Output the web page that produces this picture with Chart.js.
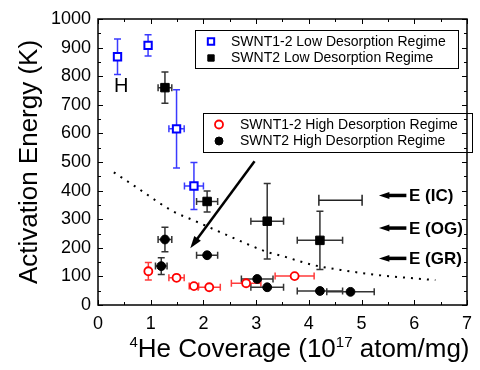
<!DOCTYPE html>
<html>
<head>
<meta charset="utf-8">
<script src="https://cdn.jsdelivr.net/npm/chart.js@4.4.1/dist/chart.umd.min.js"></script>
<style>
  body { margin: 0; background: #fff; }
</style>
</head>
<body>
<canvas id="myChart" width="480" height="370"></canvas>
<script>
const FONT = "'Liberation Sans', Arial, sans-serif";

// SWNT1-2 low desorption regime (open blue squares)
const lowS12X = [0.37, 0.95, 1.49, 1.82];
const lowS12Y = [868, 908, 616, 416];
const lowS12Xerr = [0, 0, 0.145, 0.18];
const lowS12Yerr = [62, 37, 137, 82];

// SWNT2 low desorption regime (filled black squares)
const lowS2X = [1.27, 2.07, 3.21, 4.21];
const lowS2Y = [760, 362, 293, 226];
const lowS2Xerr = [0.13, 0.2, 0.31, 0.43];
const lowS2Yerr = [55, 37, 132, 102];

// SWNT1-2 high desorption regime (open red circles)
const highS12X = [0.955, 1.49, 1.82, 2.11, 2.81, 3.73];
const highS12Y = [118, 95, 66, 62, 76, 101];
const highS12Xerr = [0, 0.145, 0.09, 0.21, 0.28, 0.37];
const highS12Yerr = [31, 0, 0, 0, 0, 0];

// SWNT2 high desorption regime (filled black circles)
const highS2X = [1.27, 1.20, 2.07, 3.02, 3.21, 4.21, 4.79];
const highS2Y = [229, 136, 174, 91, 62, 49, 46];
const highS2Xerr = [0.13, 0.11, 0.2, 0.3, 0.31, 0.43, 0.45];
const highS2Yerr = [43, 29, 0, 0, 0, 0, 0];

// lone horizontal error bar with no marker
const strayX = [4.6];
const strayY = [366];
const strayXerr = [0.41];

// dotted guide curve
const curveX = [0.3, 0.75, 1.4, 1.85, 2.5, 3.2, 3.5, 4.1, 4.7, 5.3, 6.4];
const curveY = [464, 409, 330, 293, 240, 186, 171, 139, 120, 105, 87];

// big arrow (from, to)
const arrowFrom = [2.97, 503];
const arrowTo = [1.75, 198];

// energy markers on the right
const eLabels = ["E (IC)", "E (OG)", "E (GR)"];
const eValues = [383, 269, 163];
const eArrowX = [5.85, 5.33];
const eTextX = 5.9;

const hMark = { x: 0.44, y: 765, text: "H" };

const xTicks = [0, 1, 2, 3, 4, 5, 6, 7];
const yTicks = [0, 100, 200, 300, 400, 500, 600, 700, 800, 900, 1000];

function pts(xs, ys) {
  return xs.map((v, i) => ({ x: v, y: ys[i] }));
}

const errorBars = {
  id: "errorBars",
  beforeDatasetsDraw(chart) {
    const { ctx, scales: { x, y } } = chart;
    chart.data.datasets.forEach((ds) => {
      if (!ds.err) return;
      ctx.save();
      ctx.strokeStyle = ds.err.color;
      ctx.lineWidth = 1.5;
      const cap = ds.err.cap || 3.5;
      ds.data.forEach((p, j) => {
        const px = x.getPixelForValue(p.x), py = y.getPixelForValue(p.y);
        const ex = ds.err.x ? ds.err.x[j] : 0;
        const ey = ds.err.y ? ds.err.y[j] : 0;
        ctx.beginPath();
        if (ex) {
          const l = x.getPixelForValue(p.x - ex), r = x.getPixelForValue(p.x + ex);
          ctx.moveTo(l, py); ctx.lineTo(r, py);
          ctx.moveTo(l, py - cap); ctx.lineTo(l, py + cap);
          ctx.moveTo(r, py - cap); ctx.lineTo(r, py + cap);
        }
        if (ey) {
          const t = y.getPixelForValue(p.y + ey), b = y.getPixelForValue(p.y - ey);
          ctx.moveTo(px, t); ctx.lineTo(px, b);
          ctx.moveTo(px - 3.5, t); ctx.lineTo(px + 3.5, t);
          ctx.moveTo(px - 3.5, b); ctx.lineTo(px + 3.5, b);
        }
        ctx.stroke();
      });
      ctx.restore();
    });
  }
};

function drawArrow(ctx, x1, y1, x2, y2, w, head) {
  const a = Math.atan2(y2 - y1, x2 - x1);
  ctx.lineWidth = w;
  ctx.beginPath();
  ctx.moveTo(x1, y1);
  ctx.lineTo(x2 - head * 0.7 * Math.cos(a), y2 - head * 0.7 * Math.sin(a));
  ctx.stroke();
  ctx.beginPath();
  ctx.moveTo(x2, y2);
  ctx.lineTo(x2 - head * Math.cos(a - 0.32), y2 - head * Math.sin(a - 0.32));
  ctx.lineTo(x2 - head * Math.cos(a + 0.32), y2 - head * Math.sin(a + 0.32));
  ctx.closePath();
  ctx.fill();
}

function legendBox(ctx, chart, box, items) {
  ctx.save();
  ctx.strokeStyle = "#000";
  ctx.lineWidth = 1;
  ctx.strokeRect(box.x + 0.5, box.y + 0.5, box.w, box.h);
  ctx.font = "14px " + FONT;
  ctx.textBaseline = "middle";
  ctx.fillStyle = "#000";
  items.forEach((idx, k) => {
    const ds = chart.data.datasets[idx];
    const cy = box.y + 11.5 + k * 16.5;
    ctx.fillStyle = ds.backgroundColor;
    ctx.strokeStyle = ds.borderColor;
    ctx.lineWidth = ds.borderWidth;
    Chart.helpers.drawPoint(ctx, { pointStyle: ds.pointStyle, radius: ds.pointStyle === "rect" ? 4.5 : 4, borderWidth: ds.borderWidth, rotation: 0 }, box.x + box.mx, cy);
    ctx.fillStyle = "#000";
    ctx.fillText(ds.label, box.x + box.tx, cy + 0.5);
  });
  ctx.restore();
}

const decorations = {
  id: "decorations",
  afterDatasetsDraw(chart) {
    const { ctx, chartArea: a, scales: { x, y } } = chart;
    ctx.save();
    ctx.strokeStyle = "#000";
    ctx.fillStyle = "#000";

    // big arrow
    drawArrow(ctx, x.getPixelForValue(arrowFrom[0]), y.getPixelForValue(arrowFrom[1]),
      x.getPixelForValue(arrowTo[0]), y.getPixelForValue(arrowTo[1]), 2.5, 13);

    // energy markers
    ctx.font = "bold 17px " + FONT;
    ctx.textBaseline = "middle";
    eLabels.forEach((t, i) => {
      const py = y.getPixelForValue(eValues[i]);
      drawArrow(ctx, x.getPixelForValue(eArrowX[0]), py, x.getPixelForValue(eArrowX[1]), py, 3.5, 11);
      ctx.fillText(t, x.getPixelForValue(eTextX), py + 1);
    });

    // the stray "H"
    ctx.font = "20px " + FONT;
    ctx.textAlign = "center";
    ctx.fillText(hMark.text, x.getPixelForValue(hMark.x), y.getPixelForValue(hMark.y));
    ctx.textAlign = "left";

    // frame and inward ticks
    ctx.lineWidth = 1.5;
    ctx.strokeRect(a.left, a.top, a.right - a.left, a.bottom - a.top);
    ctx.lineWidth = 1;
    ctx.beginPath();
    for (let v = 0; v <= 7.001; v += 0.5) {
      const px = Math.round(x.getPixelForValue(v)) + 0.5;
      const len = Math.abs(v - Math.round(v)) < 0.01 ? 5 : 3;
      ctx.moveTo(px, a.bottom); ctx.lineTo(px, a.bottom - len);
      ctx.moveTo(px, a.top); ctx.lineTo(px, a.top + len);
    }
    for (let v = 0; v <= 1000; v += 50) {
      const py = Math.round(y.getPixelForValue(v)) + 0.5;
      const len = v % 100 === 0 ? 5 : 3;
      ctx.moveTo(a.left, py); ctx.lineTo(a.left + len, py);
      ctx.moveTo(a.right, py); ctx.lineTo(a.right - len, py);
    }
    ctx.stroke();

    // legends
    legendBox(ctx, chart, { x: a.left + 97, y: a.top + 11, w: 263, h: 38, mx: 16, tx: 36 }, [0, 1]);
    legendBox(ctx, chart, { x: a.left + 105, y: a.top + 94, w: 269, h: 39, mx: 16, tx: 37 }, [2, 3]);

    // x axis title with superscripts
    const big = "26px " + FONT, small = "15px " + FONT;
    const parts = [["4", small, -10], ["He Coverage (10", big, 0], ["17", small, -10], [" atom/mg)", big, 0]];
    let total = 0;
    parts.forEach(p => { ctx.font = p[1]; total += ctx.measureText(p[0]).width; });
    let cx = (a.left + a.right) / 2 + 17 - total / 2;
    ctx.textBaseline = "alphabetic";
    parts.forEach(p => {
      ctx.font = p[1];
      ctx.fillText(p[0], cx, 357 + p[2]);
      cx += ctx.measureText(p[0]).width;
    });
    ctx.restore();
  }
};

const ctx = document.getElementById("myChart").getContext("2d");

const myChart = new Chart(ctx, {
  type: "scatter",
  data: {
    datasets: [
      {
        label: "SWNT1-2 Low Desorption Regime",
        data: pts(lowS12X, lowS12Y),
        pointStyle: "rect", pointRadius: 5.2, borderWidth: 2,
        borderColor: "#0000ff", backgroundColor: "#ffffff",
        err: { x: lowS12Xerr, y: lowS12Yerr, color: "#3a3aff" }
      },
      {
        label: "SWNT2 Low Desorption Regime",
        data: pts(lowS2X, lowS2Y),
        pointStyle: "rect", pointRadius: 6, borderWidth: 1,
        borderColor: "#000", backgroundColor: "#000",
        err: { x: lowS2Xerr, y: lowS2Yerr, color: "#333" }
      },
      {
        label: "SWNT1-2 High Desorption Regime",
        data: pts(highS12X, highS12Y),
        pointStyle: "circle", pointRadius: 4, borderWidth: 1.8,
        borderColor: "#ff0000", backgroundColor: "#ffffff",
        err: { x: highS12Xerr, y: highS12Yerr, color: "#ff3b3b" }
      },
      {
        label: "SWNT2 High Desorption Regime",
        data: pts(highS2X, highS2Y),
        pointStyle: "circle", pointRadius: 4.4, borderWidth: 1,
        borderColor: "#000", backgroundColor: "#000",
        err: { x: highS2Xerr, y: highS2Yerr, color: "#333" }
      },
      {
        label: "stray",
        data: pts(strayX, strayY),
        pointRadius: 0,
        err: { x: strayXerr, color: "#222", cap: 5.5 }
      },
      {
        label: "curve",
        data: pts(curveX, curveY),
        showLine: true, pointRadius: 0,
        borderColor: "#000", borderWidth: 2,
        borderDash: [2, 6], tension: 0.4, cubicInterpolationMode: "monotone"
      }
    ]
  },
  options: {
    responsive: false,
    animation: false,
    layout: { padding: { top: 19, right: 8, left: 0, bottom: 0 } },
    plugins: { legend: { display: false }, tooltip: { enabled: false } },
    scales: {
      x: {
        type: "linear", min: 0, max: 7,
        grid: { display: false, drawTicks: false },
        border: { display: false },
        afterBuildTicks(s) { s.ticks = xTicks.map(v => ({ value: v })); },
        ticks: { font: { family: FONT, size: 18 }, color: "#000", padding: 8, callback: v => String(v) },
        afterFit(s) { s.height = 65; }
      },
      y: {
        min: 0, max: 1000,
        grid: { display: false, drawTicks: false },
        border: { display: false },
        afterBuildTicks(s) { s.ticks = yTicks.map(v => ({ value: v })); },
        ticks: { font: { family: FONT, size: 18 }, color: "#000", padding: 7, callback: v => String(v) },
        title: { display: true, text: "Activation Energy (K)", font: { family: FONT, size: 26 }, color: "#000", padding: { top: 14 } },
        afterFit(s) { s.width = 98; }
      }
    }
  },
  plugins: [errorBars, decorations]
});
</script>
</body>
</html>
